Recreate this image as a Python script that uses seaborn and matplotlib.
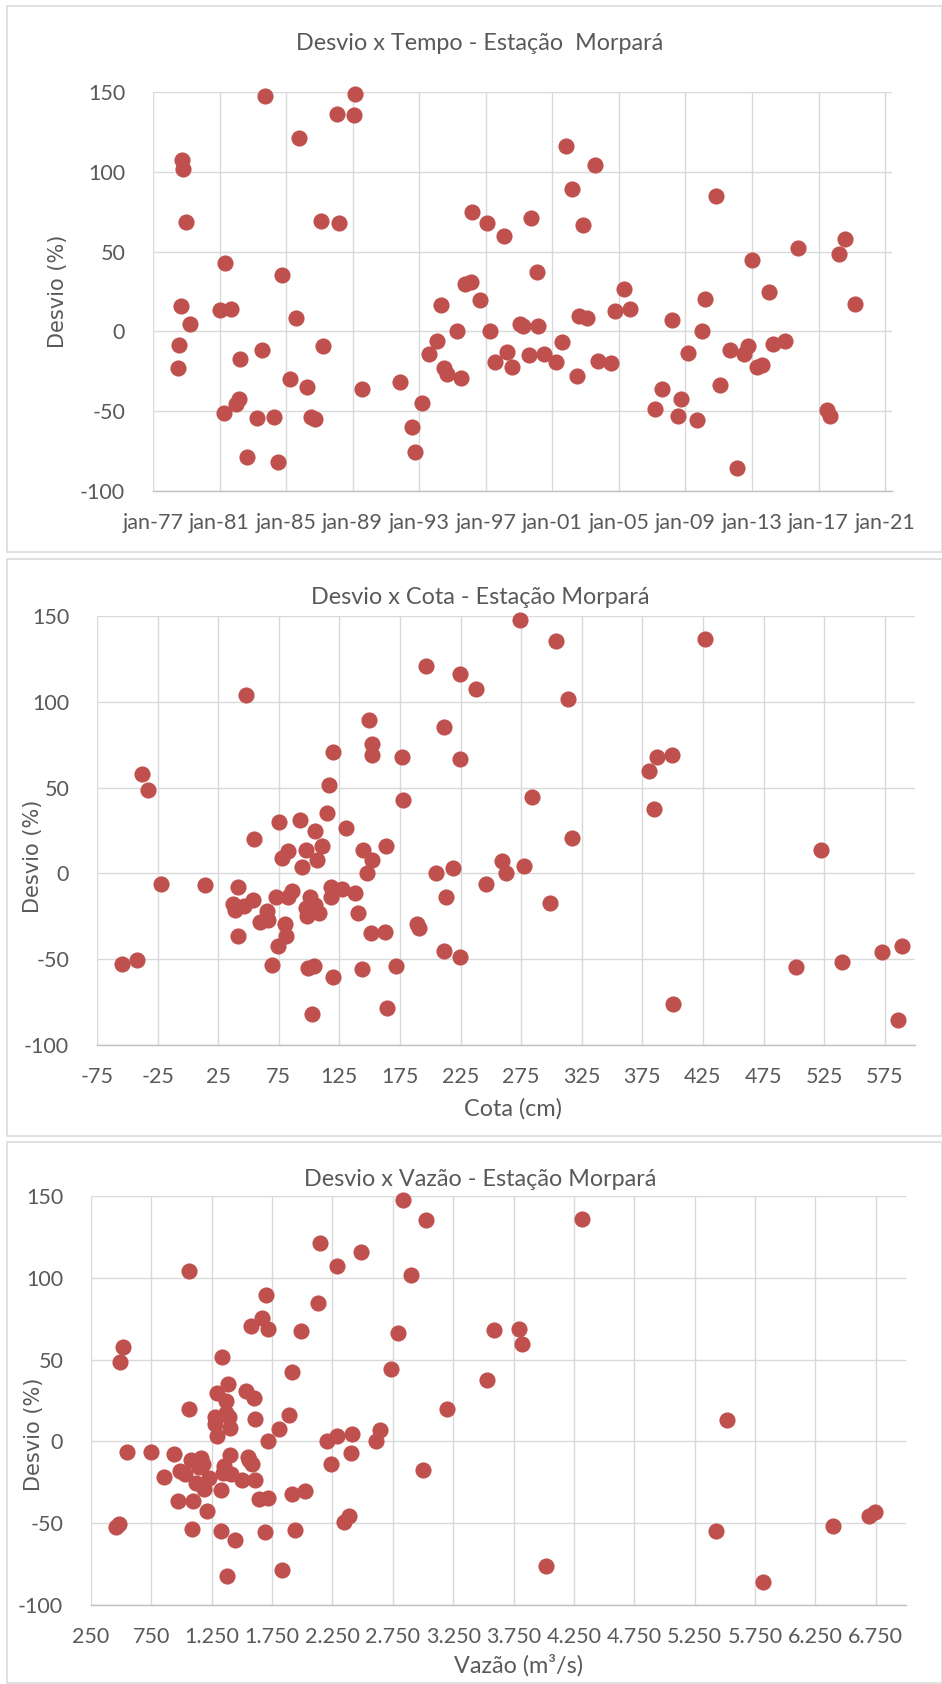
import matplotlib
matplotlib.use("Agg")
import matplotlib.pyplot as plt
from matplotlib.patches import Rectangle
import pandas as pd
import seaborn as sns

# Desvio x Tempo
datas = ["1978-07", "1978-08", "1978-09", "1978-10", "1978-11", "1979-01", "1979-04",
         "1981-01", "1981-04", "1981-05", "1981-09", "1982-01", "1982-03", "1982-04",
         "1982-09", "1983-04", "1983-08", "1983-10", "1984-04", "1984-07", "1984-10",
         "1985-04", "1985-08", "1985-10", "1986-04", "1986-07", "1986-10", "1987-02",
         "1987-04", "1988-02", "1988-03", "1989-02", "1989-03", "1989-08", "1991-11",
         "1992-08", "1992-10", "1993-03", "1993-08", "1994-02", "1994-05", "1994-07",
         "1994-09", "1995-04", "1995-07", "1995-10", "1996-02", "1996-03", "1996-09",
         "1997-02", "1997-04", "1997-08", "1998-02", "1998-04", "1998-08", "1999-02",
         "1999-04", "1999-08", "1999-10", "2000-02", "2000-03", "2000-07", "2001-04",
         "2001-08", "2001-11", "2002-03", "2002-07", "2002-08", "2002-11", "2003-02",
         "2003-08", "2003-10", "2004-07", "2004-10", "2005-05", "2005-09", "2007-03",
         "2007-08", "2008-03", "2008-08", "2008-10", "2009-03", "2009-09", "2010-01",
         "2010-03", "2010-11", "2011-02", "2011-09", "2012-02", "2012-07", "2012-10",
         "2013-01", "2013-05", "2013-08", "2014-01", "2014-04", "2015-01", "2015-10",
         "2017-07", "2017-09", "2018-04", "2018-08", "2019-03"]
desvio_tempo = [-22.9, -8.7, 15.9, 107.7, 101.6, 68.8, 4.7,
                13.3, -51.4, 42.7, 14.0, -45.8, -42.4, -17.3,
                -78.4, -54.4, -11.9, 147.4, -53.8, -81.6, 35.4,
                -30.0, 8.6, 120.9, -34.6, -53.8, -54.9, 69.0,
                -9.1, 136.2, 68.0, 135.3, 148.5, -36.3, -32.0,
                -59.8, -75.8, -45.0, -14.1, -6.3, 16.6, -23.1,
                -26.4, 0.2, -29.2, 29.8, 30.8, 74.7, 19.8,
                67.7, 0.2, -19.0, 59.5, -13.0, -22.0, 4.7,
                3.6, -15.0, 71.0, 37.5, 3.6, -13.9, -19.0,
                -6.5, 116.3, 89.3, -27.9, 9.7, 66.5, 8.6,
                104.2, -18.4, -19.7, 12.5, 26.7, 14.2, -48.4,
                -36.3, 7.3, -53.2, -42.1, -13.6, -55.3, 0.2,
                20.3, 84.8, -33.5, -11.9, -85.3, -14.3, -9.4,
                44.9, -22.0, -21.0, 24.6, -7.6, -6.3, 52.2,
                -49.5, -52.7, 48.5, 58.0, 17.4]
ticks_tempo = ["1977-01-01", "1981-01-01", "1985-01-01", "1989-01-01", "1993-01-01",
               "1997-01-01", "2001-01-01", "2005-01-01", "2009-01-01", "2013-01-01",
               "2017-01-01", "2021-01-01"]
labels_tempo = ["jan-77", "jan-81", "jan-85", "jan-89", "jan-93", "jan-97",
                "jan-01", "jan-05", "jan-09", "jan-13", "jan-17", "jan-21"]

# Desvio x Cota
cota = [-54.7, -41.8, -37.8, -32.8, -21.9, 13.8, 37.1, 39.1, 41.6, 41.6,
        46.5, 48.0, 53.5, 54.5, 59.9, 64.9, 65.9, 69.3, 72.8, 74.3,
        75.3, 77.3, 79.8, 81.3, 82.2, 82.7, 85.7, 92.7, 94.1, 97.6,
        97.6, 98.6, 99.1, 101.1, 102.1, 104.1, 104.6, 105.1, 106.5, 108.0,
        111.0, 114.5, 116.5, 118.0, 118.0, 119.4, 119.4, 127.4, 130.4, 137.8,
        140.3, 143.3, 144.7, 147.7, 149.2, 150.7, 152.2, 152.2, 152.2, 163.1,
        162.6, 164.6, 171.5, 176.5, 177.5, 189.4, 190.9, 196.3, 204.8, 211.7,
        211.7, 213.2, 218.6, 224.6, 224.6, 224.6, 237.5, 246.4, 258.8, 262.8,
        273.7, 277.7, 283.6, 298.5, 304.0, 313.9, 316.9, 380.8, 384.3, 387.3,
        399.2, 400.2, 427.0, 501.9, 522.2, 540.1, 572.8, 585.7, 589.2]
desvio_cota = [-52.6, -50.7, 57.7, 48.5, -6.1, -6.6, -17.8, -21.5, -7.7, -36.6,
               -18.9, 104.2, -15.6, 20.0, -28.1, -21.9, -27.0, -53.3, -13.8, -42.1,
               30.0, 9.2, -29.2, -36.2, -13.8, 12.9, -10.1, 31.0, 3.5, 13.6,
               -20.4, -24.8, -55.0, -13.8, -82.2, -54.2, 24.6, -18.2, 8.1, -23.2,
               16.0, 35.1, 51.8, -7.9, -13.8, 70.6, -60.3, -8.8, 26.3, -11.6,
               -23.2, -55.5, 13.6, 0.0, 89.3, -34.9, 8.1, 75.2, 69.1, 16.2,
               -34.0, -78.3, -53.7, 67.8, 43.0, -29.6, -31.8, 121.1, 0.2, 85.1,
               -45.2, -13.8, 3.3, 116.4, 66.7, -48.5, 107.2, -6.4, 7.2, 0.2,
               147.8, 4.2, 44.5, -17.1, 135.7, 101.8, 20.4, 59.4, 37.7, 68.0,
               69.1, -76.1, 136.4, -54.6, 13.4, -51.5, -45.8, -85.5, -42.5]
ticks_cota = [-75, -25, 25, 75, 125, 175, 225, 275, 325, 375, 425, 475, 525, 575]
labels_cota = ["-75", "-25", "25", "75", "125", "175", "225", "275", "325",
               "375", "425", "475", "525", "575"]

# Desvio x Vazão
vazao = [454, 479, 494, 519, 549, 743, 857, 937, 971, 991,
         1026, 1061, 1061, 1081, 1086, 1091, 1116, 1141, 1160, 1175,
         1190, 1210, 1225, 1275, 1280, 1295, 1295, 1325, 1330, 1335,
         1345, 1355, 1365, 1370, 1375, 1384, 1389, 1399, 1399, 1409,
         1444, 1504, 1534, 1549, 1559, 1584, 1603, 1608, 1608, 1638,
         1663, 1578, 1688, 1703, 1713, 1713, 1713, 1807, 1832, 1892,
         1912, 1917, 1942, 1991, 2026, 2131, 2145, 2205, 2235, 2290,
         2290, 2349, 2384, 2404, 2414, 2489, 2608, 2643, 2733, 2792,
         2837, 2902, 2996, 3021, 3200, 3528, 3588, 3797, 3817, 4016,
         4320, 5429, 5514, 5817, 6394, 6693, 6743]
desvio_vazao = [-52.4, -50.7, 48.4, 57.4, -6.6, -6.6, -21.5, -7.9, -36.6, -18.0,
                -20.2, 104.2, 19.8, -11.5, -53.3, -36.2, -25.6, -15.9, -10.0, -13.7,
                -28.8, -42.3, -22.4, 10.7, 14.8, 29.5, 3.0, -55.0, -29.5, 51.6,
                -19.5, -15.0, 17.6, 24.6, -82.3, 35.0, 14.8, 7.9, -8.3, -20.2,
                -60.2, -23.4, 31.1, -9.4, -11.5, -13.7, 26.3, 13.8, -23.4, -35.3,
                75.6, 70.4, -55.4, 89.4, 0.0, 68.9, -34.3, 7.7, -78.8, 15.9,
                42.5, -32.1, -54.2, 67.2, -30.4, 84.9, 121.0, 0.0, -14.1, 107.2,
                3.4, -49.2, -45.5, -6.8, 4.3, 116.0, 0.0, 7.2, 44.5, 66.5,
                147.4, 101.6, -17.4, 135.3, 20.0, 37.3, 68.0, 68.9, 59.4, -76.2,
                136.2, -54.8, 12.9, -85.7, -51.8, -45.9, -42.9]
ticks_vazao = [250, 750, 1250, 1750, 2250, 2750, 3250, 3750, 4250, 4750,
               5250, 5750, 6250, 6750]
labels_vazao = ["250", "750", "1.250", "1.750", "2.250", "2.750", "3.250", "3.750",
                "4.250", "4.750", "5.250", "5.750", "6.250", "6.750"]

ticks_desvio = [-100, -50, 0, 50, 100, 150]
labels_desvio = ["-100", "-50", "0", "50", "100", "150"]

W, H = 942, 1684
CINZA = "#595959"
VERMELHO = "#C0504D"

sns.set_style("white")
plt.rcParams["font.family"] = ["Lato", "DejaVu Sans"]
plt.rcParams["axes.unicode_minus"] = False

fig = plt.figure(figsize=(W / 100, H / 100), dpi=100)


def caixa(x0, y0, x1, y1):
    return [x0 / W, 1 - y1 / H, (x1 - x0) / W, (y1 - y0) / H]


def estilo(ax):
    ax.set_ylim(-100, 150)
    ax.set_yticks(ticks_desvio)
    ax.set_yticklabels(labels_desvio)
    ax.grid(True, color="#D9D9D9", lw=1.0)
    ax.set_axisbelow(True)
    for s in ["top", "right", "left"]:
        ax.spines[s].set_visible(False)
    ax.spines["bottom"].set_color("#BFBFBF")
    ax.spines["bottom"].set_linewidth(1.0)
    ax.tick_params(length=0, labelsize=15.5, labelcolor=CINZA)
    ax.tick_params(axis="y", pad=20)
    ax.tick_params(axis="x", pad=16)
    ax.set_xlabel("")
    ax.set_ylabel("")


def moldura(y0, y1):
    fig.add_artist(Rectangle((7 / W, 1 - y1 / H), (941.5 - 7) / W, (y1 - y0) / H,
                             transform=fig.transFigure, fill=False,
                             edgecolor="#D9D9D9", lw=1.1))


def texto(x, y, s, **kw):
    fig.text(x / W, 1 - y / H, s, ha="center", va="center", color=CINZA, **kw)


# painel 1 - tempo
moldura(6, 552)
ax1 = fig.add_axes(caixa(153, 92, 892, 491))
sns.scatterplot(x=pd.to_datetime(datas), y=desvio_tempo, ax=ax1, color=VERMELHO,
                s=135, linewidth=0, clip_on=False, zorder=3)
ax1.set_xlim(pd.Timestamp("1977-01-01"), pd.Timestamp("2021-06-01"))
ax1.set_xticks(pd.to_datetime(ticks_tempo))
ax1.set_xticklabels(labels_tempo)
estilo(ax1)
texto(480, 43, "Desvio x Tempo - Estação  Morpará", fontsize=16.8)
texto(58, 291, "Desvio (%)", rotation=90, fontsize=15, family="DejaVu Sans")

# painel 2 - cota
moldura(559, 1135.5)
ax2 = fig.add_axes(caixa(97, 616, 915, 1045))
sns.scatterplot(x=cota, y=desvio_cota, ax=ax2, color=VERMELHO,
                s=135, linewidth=0, clip_on=False, zorder=3)
ax2.set_xlim(-75, 600)
ax2.set_xticks(ticks_cota)
ax2.set_xticklabels(labels_cota)
estilo(ax2)
texto(480, 597, "Desvio x Cota - Estação Morpará", fontsize=16.8)
texto(513, 1109, "Cota (cm)", fontsize=16.8)
texto(33, 856, "Desvio (%)", rotation=90, fontsize=15, family="DejaVu Sans")

# painel 3 - vazão
moldura(1141.5, 1683)
ax3 = fig.add_axes(caixa(91, 1196, 906, 1605))
sns.scatterplot(x=vazao, y=desvio_vazao, ax=ax3, color=VERMELHO,
                s=135, linewidth=0, clip_on=False, zorder=3)
ax3.set_xlim(250, 7000)
ax3.set_xticks(ticks_vazao)
ax3.set_xticklabels(labels_vazao)
estilo(ax3)
texto(480, 1179.5, "Desvio x Vazão - Estação Morpará", fontsize=16.8)
texto(518, 1665, "Vazão (m³/s)", fontsize=16.8)
texto(34, 1434, "Desvio (%)", rotation=90, fontsize=15, family="DejaVu Sans")

fig.savefig("out.png", dpi=100)
